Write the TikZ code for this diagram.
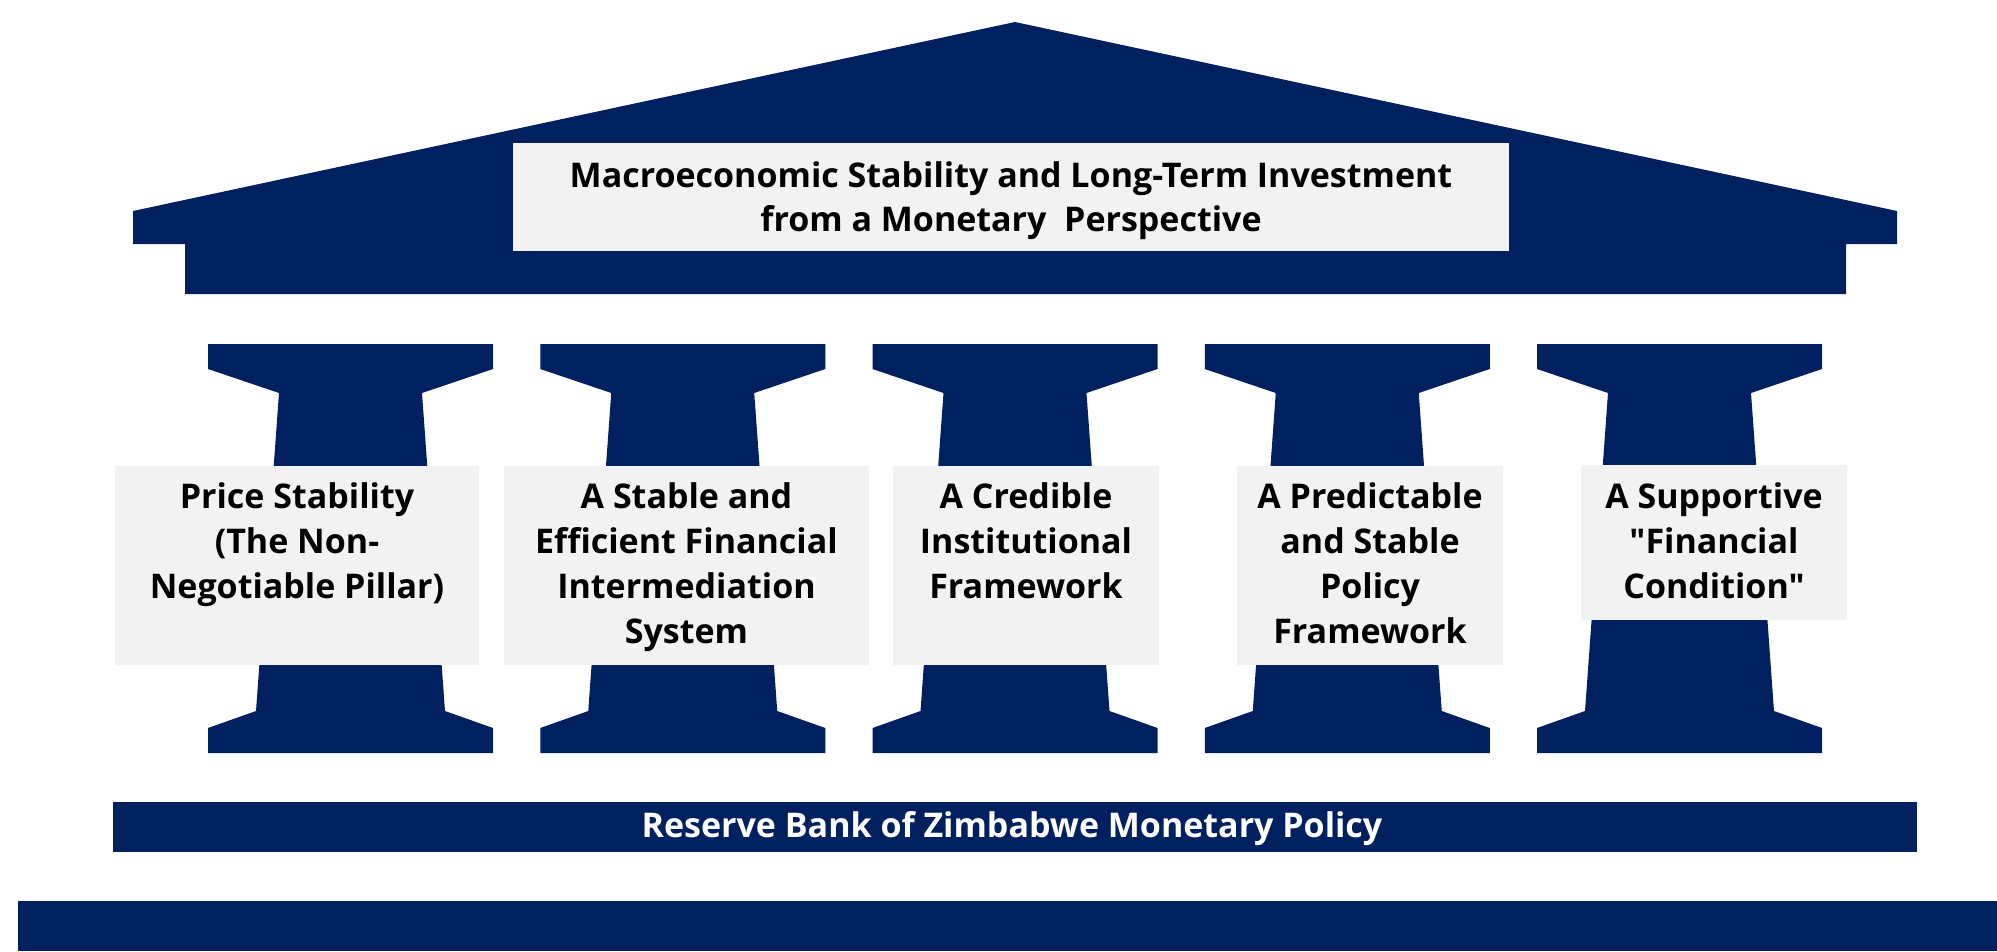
\documentclass[tikz,border=0pt]{standalone}
\usepackage{fontspec}
\setmainfont{Open Sans}[Ligatures={NoCommon,TeXOff}]
\definecolor{navy}{HTML}{012060}
\definecolor{boxgray}{HTML}{F2F2F2}
\tikzset{
  navyshape/.style={fill=navy, draw=none},
  graybox/.style={fill=boxgray, draw=none, inner sep=0, outer sep=0},
  pillartext/.style={font=\bfseries\fontsize{34}{45}\selectfont, align=center, anchor=north, inner sep=0, text=black},
  titletext/.style={font=\bfseries\fontsize{34}{44}\selectfont, align=center, anchor=north, inner sep=0, text=black},
  basetext/.style={font=\bfseries\fontsize{34}{38}\selectfont, anchor=base, inner sep=0, text=white}
}
\begin{document}
\begin{tikzpicture}[x=1pt,y=-1pt]
\useasboundingbox (0,0) rectangle (1997,951);
% roof and entablature
\fill[navyshape] (133,244) -- (133,211) -- (1015,22) -- (1897,211) -- (1897,244)
  -- (1846,244) -- (1846,294) -- (185,294) -- (185,244) -- cycle;
% pillars
\foreach \i in {0,...,4}{
  \pgfmathsetmacro\xo{208+332.25*\i}
  \pgfmathsetmacro\cx{\xo+142.5}
  \fill[navyshape] (\xo,344) -- (\xo+285,344) -- (\xo+285,369) -- (\cx+71.5,393)
    -- (\cx+94.5,711) -- (\xo+285,728) -- (\xo+285,753) -- (\xo,753) -- (\xo,728)
    -- (\cx-94.5,711) -- (\cx-71.5,393) -- (\xo,369) -- cycle;
}
% foundation bands
\node[navyshape, minimum width=1804, minimum height=50, inner sep=0] (band) at (1015,827) {};
\node[navyshape, minimum width=1979, minimum height=50, inner sep=0] (ground) at (1007.5,926) {};
\node[basetext] (bandtext) at (1012,837) {Reserve Bank of Zimbabwe Monetary Policy};
% title
\node[graybox, minimum width=996, minimum height=108] (titlebox) at (1011,197) {};
\node[titletext] (title) at (1011,152) {\rule{0pt}{35pt}Macroeconomic Stability and Long-Term Investment\\from a Monetary\ \ Perspective};
% pillar boxes
\node[graybox, minimum width=364, minimum height=199] (b1) at (297,565.5) {};
\node[graybox, minimum width=365, minimum height=199] (b2) at (686.5,565.5) {};
\node[graybox, minimum width=266, minimum height=199] (b3) at (1026,565.5) {};
\node[graybox, minimum width=266, minimum height=199] (b4) at (1370,565.5) {};
\node[graybox, minimum width=266, minimum height=155] (b5) at (1714,542.5) {};
\node[pillartext] (t1) at (297,478) {\rule{0pt}{30pt}Price Stability\\(The Non-\\Negotiable Pillar)};
\node[pillartext] (t2) at (686.5,478) {\rule{0pt}{30pt}A Stable and\\Efficient Financial\\Intermediation\\System};
\node[pillartext] (t3) at (1026,478) {\rule{0pt}{30pt}A Credible\\Institutional\\Framework};
\node[pillartext] (t4) at (1370,478) {\rule{0pt}{30pt}A Predictable\\and Stable\\Policy\\Framework};
\node[pillartext] (t5) at (1714,478) {\rule{0pt}{30pt}A Supportive\\"Financial\\Condition"};
\end{tikzpicture}
\end{document}
